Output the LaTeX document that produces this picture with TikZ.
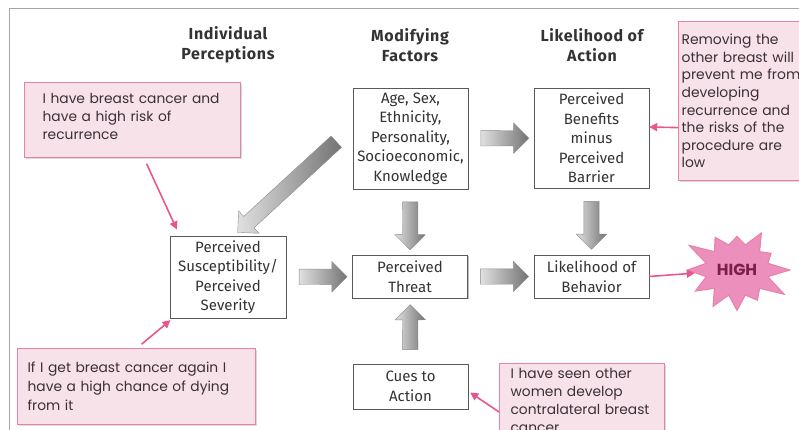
\documentclass[tikz,border=0pt]{standalone}
\usepackage{fontspec}
\newfontfamily\boxfont{Fira Sans}
\newfontfamily\headfont[LetterSpace=4]{Fira Sans}
\newfontfamily\notefont{Poppins}
\usetikzlibrary{shapes.arrows,shapes.symbols,shadows,arrows.meta}
\definecolor{notepink}{HTML}{F8E2EA}
\definecolor{noteline}{HTML}{E982A8}
\definecolor{arrowpink}{HTML}{E9558F}
\definecolor{starpink}{HTML}{EC8FBC}
\definecolor{highred}{HTML}{7B1F48}
\definecolor{boxtext}{HTML}{333333}
\definecolor{notetext}{HTML}{3A3038}

\begin{document}
\begin{tikzpicture}[x=1pt,y=-1pt,
    box/.style={draw=black!65,fill=white,align=center,text=boxtext,
        font=\boxfont\fontsize{15}{19.5}\selectfont,minimum width=115pt,inner sep=2pt,
        drop shadow={shadow xshift=1.2pt,shadow yshift=-1.2pt,fill=black,opacity=0.25}},
    header/.style={align=center,text=black!80,font=\headfont\bfseries\fontsize{16}{20}\selectfont},
    note/.style={draw=noteline,line width=1.2pt,fill=notepink,anchor=north west,align=left,
        text=notetext,font=\notefont\fontsize{13.8}{18}\selectfont,
        drop shadow={shadow xshift=1.2pt,shadow yshift=-1.2pt,fill=black,opacity=0.15}},
    grayarrow/.style={single arrow,draw=black!45,left color=black!12,right color=black!55,
        inner sep=7.5pt,single arrow head extend=7.5pt,single arrow head indent=0pt,
        minimum height=48pt,sloped,allow upside down},
    pinkarrow/.style={draw=arrowpink,line width=1.6pt,-{Triangle[length=8pt,width=8pt]}}]

    \useasboundingbox (0,0) rectangle (799,430);
    \draw[black!35] (9,430) -- (9,8) -- (799,8);

    \node[header] (hindiv) at (228,45) {Individual\\Perceptions};
    \node[header] (hmod) at (410,45) {Modifying\\Factors};
    \node[header] (hlike) at (592,45) {Likelihood of\\Action};

    \node[box,minimum height=101pt] (age) at (410.5,138.5) {Age, Sex,\\Ethnicity,\\Personality,\\Socioeconomic,\\Knowledge};
    \node[box,minimum height=100pt] (ben) at (591.5,138) {Perceived\\Benefits\\minus\\Perceived\\Barrier};
    \node[box,minimum width=116pt,minimum height=82pt] (susc) at (228,277) {Perceived\\Susceptibility/\\Perceived\\Severity};
    \node[box,minimum height=43pt] (threat) at (410,276.5) {Perceived\\Threat};
    \node[box,minimum height=43pt] (beh) at (591.5,276.5) {Likelihood of\\Behavior};
    \node[box,minimum height=45pt] (cues) at (410.5,386.5) {Cues to\\Action};

    \path (age) -- node[grayarrow] {} (ben);
    \path (susc) -- node[grayarrow] {} (threat);
    \path (threat) -- node[grayarrow] {} (beh);
    \path (age) -- node[grayarrow] {} (threat);
    \path (ben) -- node[grayarrow] {} (beh);
    \path (cues) -- node[grayarrow,minimum height=45pt] {} (threat);
    \path ([yshift=12pt]age.west) -- node[grayarrow,minimum height=134pt,pos=0.53] {} ([xshift=6pt]susc.north);

    \node[note,inner xsep=18pt,text width=180pt,minimum height=75pt] (noteA) at (24,82) {I have breast cancer and\\have a high risk of\\recurrence\\[-10pt]\mbox{}};
    \node[note,inner xsep=10pt,text width=218pt,minimum height=76pt,font=\notefont\fontsize{13.8}{19}\selectfont] (noteB) at (17,348) {If I get breast cancer again I\\have a high chance of dying\\from it};
    \node[note,inner xsep=3pt,text width=134pt,minimum height=159pt,font=\notefont\fontsize{13.9}{17.6}\selectfont] (noteC) at (678,21) {Removing the\\other breast will\\prevent me from\\developing\\recurrence and\\the risks of the\\procedure are\\low};
    \node[note,inner xsep=11pt,text width=143pt,minimum height=74pt] (noteD) at (499,363) {I have seen other\\women develop\\contralateral breast\\cancer};

    \node[starburst,starburst points=12,starburst point height=24pt,random starburst=3,fill=starpink,
        draw=noteline,line width=1pt,minimum width=112pt,minimum height=100pt,inner sep=0pt,
        text=highred,font=\notefont\bfseries\fontsize{16}{16}\selectfont] (high) at (737,270) {HIGH};

    \draw[pinkarrow,shorten <=6pt,shorten >=7pt] ([xshift=120pt]noteA.south west) -- ([xshift=10pt]susc.north west);
    \draw[pinkarrow,shorten <=6pt,shorten >=3pt] ([xshift=120pt]noteB.north west) -- ([xshift=3pt]susc.south west);
    \draw[pinkarrow] ([yshift=-26.5pt]noteC.west) -- ([yshift=11pt]ben.east);
    \draw[pinkarrow] ([yshift=-49pt]noteD.north west) -- ([xshift=2pt,yshift=-6pt]cues.east);
    \draw[pinkarrow] (beh.east) -- (high);
\end{tikzpicture}
\end{document}
